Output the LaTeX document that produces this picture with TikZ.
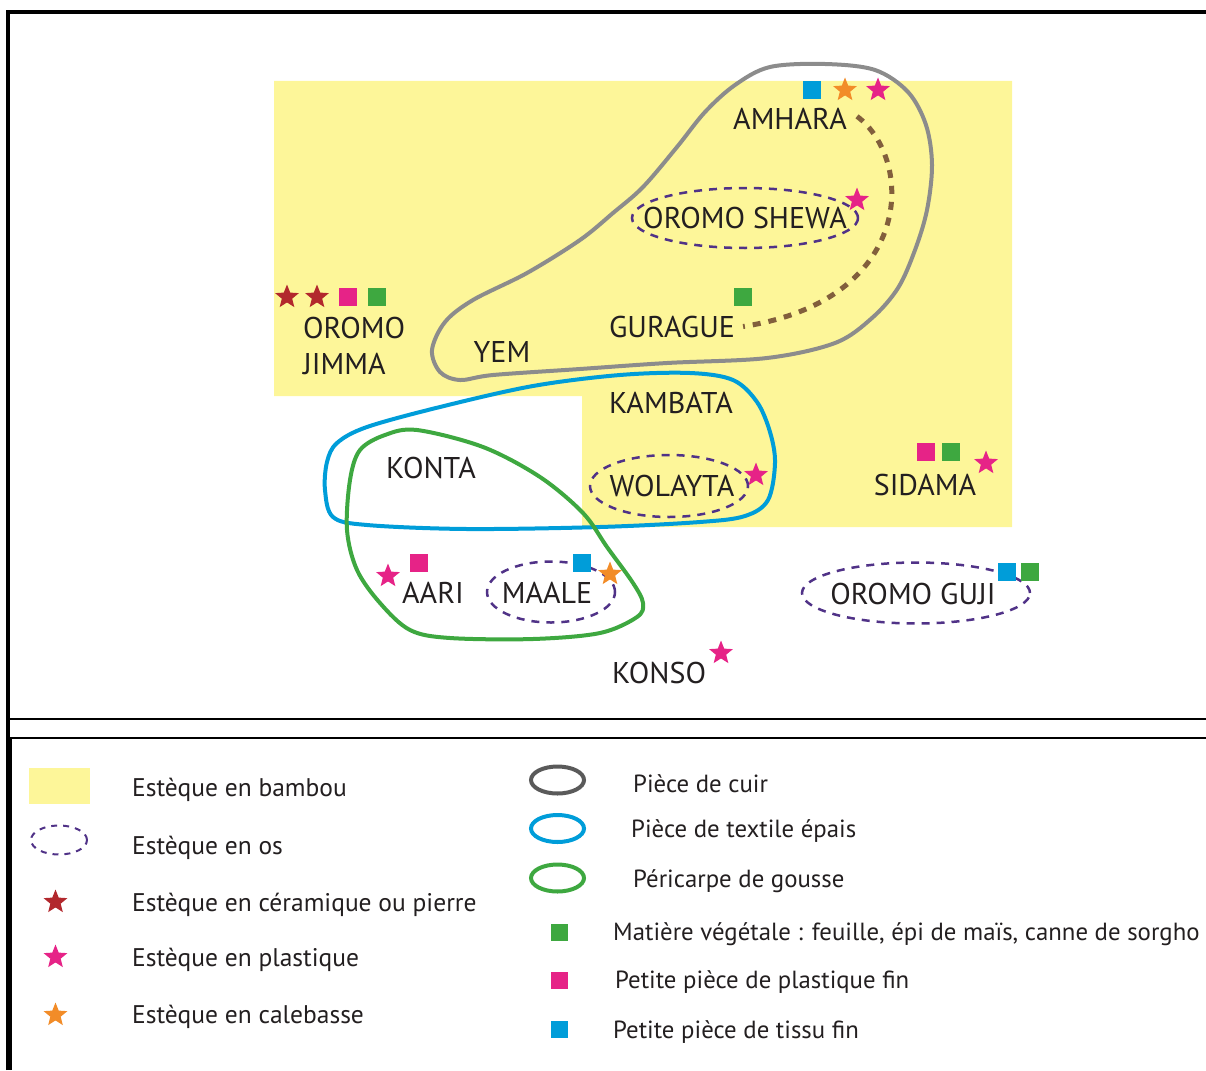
\documentclass[tikz,border=0pt]{standalone}
\usepackage{fontspec}
\setmainfont{PT Sans}
\usepackage{tikz}
\usetikzlibrary{shapes.geometric, positioning}
\definecolor{Bamboo}{RGB}{253,246,153}
\definecolor{Leather}{RGB}{140,140,140}
\definecolor{LeatherKey}{RGB}{90,90,90}
\definecolor{Textile}{RGB}{0,157,217}
\definecolor{Pod}{RGB}{62,168,64}
\definecolor{Bone}{RGB}{80,50,135}
\definecolor{Ceramic}{RGB}{178,40,45}
\definecolor{Plastic}{RGB}{230,35,135}
\definecolor{Gourd}{RGB}{242,140,40}
\definecolor{Link}{RGB}{130,95,60}
\definecolor{Ink}{RGB}{35,31,32}

\begin{document}
\begin{tikzpicture}[x=1pt, y=-1pt,
    tribe/.style={font=\fontsize{30}{36}\selectfont, inner sep=0pt, anchor=base, text=Ink},
    keytext/.style={font=\fontsize{25.5}{30}\selectfont, inner sep=0pt, anchor=base west, text=Ink},
    keynarrow/.style={keytext, font=\fontsize{24.8}{30}\selectfont},
    sqmark/.style={rectangle, minimum size=18pt, inner sep=0pt, fill=#1},
    starmark/.style={star, star points=5, star point ratio=2.3, minimum size=25pt, inner sep=0pt, fill=#1},
    osring/.style={ellipse, draw=Bone, line width=2.5pt, dash pattern=on 8pt off 7pt, inner sep=0pt},
    ringline/.style={draw=#1, line width=4pt, line join=round},
    ringkey/.style={ellipse, draw=#1, line width=4pt, minimum width=53pt, minimum height=27pt, inner sep=0pt}]
    \useasboundingbox (0,0) rectangle (1206,1070);

    % Frame
    \draw[line width=3.5pt] (8,1070) -- (8,12) -- (1206,12);
    \draw[line width=2pt] (8,719) -- (1206,719);
    \draw[line width=2pt] (11,1070) -- (11,738) -- (1206,738);

    % Bamboo area
    \fill[Bamboo] (274,81) -- (1012,81) -- (1012,527) -- (582,527) -- (582,396) -- (274,396) -- cycle;

    % Leather, textile and pod areas
    \draw[ringline=Leather] plot[smooth cycle, tension=0.55] coordinates {
        (770,67) (825,64) (875,70) (908,92) (926,125) (932,165) (927,210) (915,250)
        (898,288) (872,318) (835,343) (767,358) (667,363) (580,369) (493,375) (460,380)
        (440,372) (432,350) (445,322) (473,300) (527,273) (580,240) (613,213) (643,187)
        (677,147) (705,112) (735,85)};
    \draw[ringline=Textile] plot[smooth cycle, tension=0.55] coordinates {
        (337,443) (367,427) (440,407) (533,386) (620,375) (690,373) (733,380) (757,402)
        (770,432) (775,463) (768,500) (745,516) (700,522) (600,527) (467,529) (367,525)
        (333,517) (325,490) (327,462)};
    \draw[ringline=Pod] plot[smooth cycle, tension=0.55] coordinates {
        (417,430) (483,447) (540,477) (583,513) (607,547) (633,583) (643,603) (637,617)
        (600,633) (533,639) (450,638) (410,630) (380,603) (357,570) (347,530) (350,480)
        (360,450) (385,435)};

    % Bone tools
    \node[osring, minimum width=226pt, minimum height=60pt] (shewa-os) at (745,218) {};
    \node[osring, minimum width=158pt, minimum height=62pt] (wolayta-os) at (669,486) {};
    \node[osring, minimum width=128pt, minimum height=61pt] (maale-os) at (551,592) {};
    \node[osring, minimum width=228pt, minimum height=61pt] (guji-os) at (916,593) {};

    % Groups
    \node[tribe] (amhara) at (790,129) {AMHARA};
    \node[tribe] (shewa) at (745,228) {OROMO SHEWA};
    \node[tribe] (gurague) at (672,337) {GURAGUE};
    \node[tribe, anchor=north west, align=left] (jimma) at (303,317) {OROMO\\JIMMA};
    \node[tribe] (yem) at (502,362) {YEM};
    \node[tribe] (kambata) at (671,413) {KAMBATA};
    \node[tribe] (konta) at (431,478) {KONTA};
    \node[tribe] (wolayta) at (672,496) {WOLAYTA};
    \node[tribe] (sidama) at (925,495) {SIDAMA};
    \node[tribe] (aari) at (433,603) {AARI};
    \node[tribe] (maale) at (547,603) {MAALE};
    \node[tribe] (guji) at (913,604) {OROMO GUJI};
    \node[tribe] (konso) at (659,683) {KONSO};

    % Amhara -- Gurague
    \draw[Link, line width=5pt, dash pattern=on 8pt off 8pt]
        ([xshift=10pt, yshift=2pt]amhara.east) .. controls (915,160) and (915,300) .. ([xshift=8pt]gurague.east);

    % Markers
    \node[sqmark=Textile] (amhara-tissu) at (812,90) {};
    \node[starmark=Gourd] (amhara-gourd) at (845,90) {};
    \node[starmark=Plastic] (amhara-plast) at (878,90) {};
    \node[starmark=Plastic] (shewa-plast) at (857,200) {};
    \node[sqmark=Pod] (gurague-plant) at (743,297) {};
    \node[starmark=Ceramic] (jimma-cer1) at (287,297) {};
    \node[starmark=Ceramic] (jimma-cer2) at (317,297) {};
    \node[sqmark=Plastic] (jimma-fin) at (348,297) {};
    \node[sqmark=Pod] (jimma-plant) at (377,297) {};
    \node[sqmark=Plastic] (sidama-fin) at (926,452) {};
    \node[sqmark=Pod] (sidama-plant) at (951,452) {};
    \node[starmark=Plastic] (sidama-plast) at (986,463) {};
    \node[starmark=Plastic] (wolayta-plast) at (756,475) {};
    \node[starmark=Plastic] (aari-plast) at (388,576) {};
    \node[sqmark=Plastic] (aari-fin) at (419,563) {};
    \node[sqmark=Textile] (maale-tissu) at (582,563) {};
    \node[starmark=Gourd] (maale-gourd) at (610,574) {};
    \node[sqmark=Textile] (guji-tissu) at (1007,572) {};
    \node[sqmark=Pod] (guji-plant) at (1030,572) {};
    \node[starmark=Plastic] (konso-plast) at (721,653) {};

    % Legend, left column
    \node[rectangle, fill=Bamboo, minimum width=61pt, minimum height=36pt, inner sep=0pt] (key-bamboo) at (59.5,786) {};
    \node[osring, line width=2pt, dash pattern=on 6pt off 6pt, minimum width=56pt, minimum height=29pt] (key-bone) at (59,840) {};
    \node[starmark=Ceramic] (key-cer) at (55.5,902) {};
    \node[starmark=Plastic] (key-plast) at (55.5,957) {};
    \node[starmark=Gourd] (key-gourd) at (55.5,1015) {};
    \node[keytext] (t-bamboo) at (132,796) {Estèque en bambou};
    \node[keytext] (t-bone) at (132,854) {Estèque en os};
    \node[keytext] (t-cer) at (132,911) {Estèque en céramique ou pierre};
    \node[keytext] (t-plast) at (132,966) {Estèque en plastique};
    \node[keytext] (t-gourd) at (132,1023) {Estèque en calebasse};

    % Legend, right column
    \node[ringkey=LeatherKey] (key-cuir) at (557.5,780) {};
    \node[ringkey=Textile] (key-textile) at (557.5,828.5) {};
    \node[ringkey=Pod] (key-pod) at (557.5,878) {};
    \node[sqmark=Pod, minimum size=17pt] (key-plant) at (559,932) {};
    \node[sqmark=Plastic, minimum size=17pt] (key-fin) at (559,980) {};
    \node[sqmark=Textile, minimum size=17pt] (key-tissu) at (559,1029) {};
    \node[keynarrow] (t-cuir) at (633,792) {Pièce de cuir};
    \node[keynarrow] (t-textile) at (631,837) {Pièce de textile épais};
    \node[keynarrow] (t-pod) at (633,887) {Péricarpe de gousse};
    \node[keynarrow] (t-plant) at (613,940) {Matière végétale : feuille, épi de maïs, canne de sorgho};
    \node[keynarrow] (t-fin) at (615,988) {Petite pièce de plastique fin};
    \node[keynarrow] (t-tissu) at (613,1038) {Petite pièce de tissu fin};
\end{tikzpicture}
\end{document}
